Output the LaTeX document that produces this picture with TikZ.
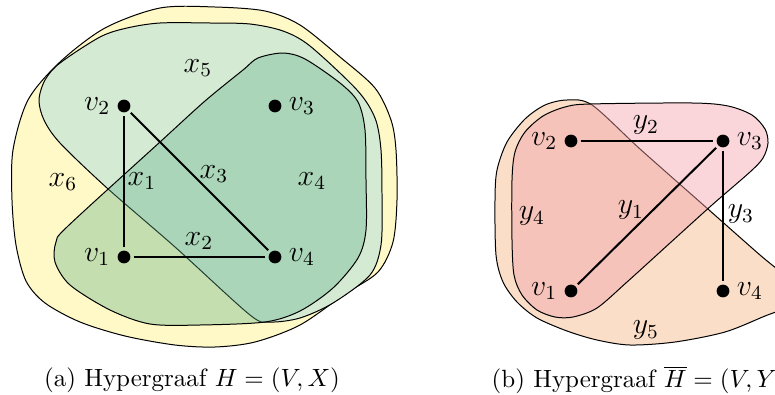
\documentclass[tikz,border=0pt]{standalone}
\usepackage{amsmath}
\usetikzlibrary{positioning}
\definecolor{xsix}{RGB}{255,248,199}
\definecolor{xfive}{RGB}{213,234,211}
\definecolor{xfour}{RGB}{94,178,137}
\definecolor{yfive}{RGB}{250,222,200}
\definecolor{yfour}{RGB}{243,160,169}

\begin{document}
\begin{tikzpicture}[x=0.01408cm, y=-0.01408cm,
  vertex/.style={circle, fill=black, inner sep=0pt, minimum size=1.8mm, outer sep=1.3pt},
  vlabel/.style={inner sep=1.5pt, font=\large},
  elabel/.style={inner sep=0pt, font=\large},
  hedge/.style={draw=black, line width=0.4pt},
  link/.style={thick}]

\useasboundingbox (0,0) rectangle (775,394);
\clip (0,0) rectangle (775,394);

%---------------------------------------
% LEFT PANEL: H = (V,X)
%---------------------------------------

  % ---- x6 ----
  \draw[hedge, fill=xsix] plot[smooth cycle] coordinates {
    (160,8) (215,7) (265,11) (300,25) (340,57) (375,88) (391,120)
    (396,150) (397,200) (393,242) (378,272) (345,294) (300,325)
    (255,342) (215,347) (175,345) (125,336) (80,322) (45,303)
    (26,281) (16,245) (12,200) (13,150) (28,100) (60,62) (105,28)};

  % ---- x5 ----
  \draw[hedge, fill=xfive] plot[smooth cycle] coordinates {
    (160,23) (210,23) (250,24) (283,31) (310,46) (357,90) (375,118)
    (381,150) (382,200) (381,245) (370,275) (333,303) (300,318)
    (270,322) (250,315) (175,247) (107,188) (60,143) (44,120)
    (39,100) (45,80) (60,63) (100,37) (127,28)};

  % ---- x4 ----
  \draw[hedge, fill=xfour, fill opacity=0.36] plot[smooth cycle] coordinates {
    (243,70) (258,58) (283,53) (305,59) (340,83) (358,102) (365,130)
    (366,180) (366,230) (358,258) (333,288) (300,311) (265,322)
    (200,325) (150,324) (110,310) (70,285) (55,262) (56,242)
    (68,226) (160,142) (205,101)};

  % Vertices
  \node[vertex, label={[vlabel]left:$v_1$}]  (lv1) at (124,257) {};
  \node[vertex, label={[vlabel]left:$v_2$}]  (lv2) at (124,106) {};
  \node[vertex, label={[vlabel]right:$v_3$}] (lv3) at (275,106) {};
  \node[vertex, label={[vlabel]right:$v_4$}] (lv4) at (275,257) {};

  % Edges x1, x2, x3
  \draw[link] (lv1) -- (lv2);
  \draw[link] (lv1) -- (lv4);
  \draw[link] (lv2) -- (lv4);

  % Labels
  \node[elabel] (lx1) at (142,181) {$x_1$};
  \node[elabel] (lx2) at (199,241) {$x_2$};
  \node[elabel] (lx3) at (214,174) {$x_3$};
  \node[elabel] (lx4) at (312,181) {$x_4$};
  \node[elabel] (lx5) at (198,68)  {$x_5$};
  \node[elabel] (lx6) at (63,182)  {$x_6$};

  \node (capa) at (192,380) {(a) Hypergraaf $H=(V,X)$};

%---------------------------------------
% RIGHT PANEL: complement of H = (V,Y)
%---------------------------------------

  % ---- y5 ----
  \draw[hedge, fill=yfive] plot[smooth cycle] coordinates {
    (567,100) (592,105) (640,149) (700,202) (760,255) (790,280)
    (798,296) (785,308) (765,316) (725,332) (675,342) (630,345)
    (597,340) (567,331) (537,318) (517,302) (503,282) (496,255)
    (495,200) (497,170) (507,142) (525,119) (545,105)};

  % ---- y4 ----
  \draw[hedge, fill=yfour, fill opacity=0.43] plot[smooth cycle] coordinates {
    (590,104) (692,103) (728,106) (752,115) (765,129) (768,143)
    (763,158) (750,172) (712,205) (670,243) (627,282) (597,308)
    (573,317) (555,317) (537,310) (522,295) (514,275) (512,240)
    (512,180) (515,152) (525,132) (543,116) (565,107)};

  % Vertices
  \node[vertex, label={[vlabel]left:$v_1$}]  (rv1) at (571,291) {};
  \node[vertex, label={[vlabel]left:$v_2$}]  (rv2) at (571,141) {};
  \node[vertex, label={[vlabel]right:$v_3$}] (rv3) at (723,141) {};
  \node[vertex, label={[vlabel]right:$v_4$}] (rv4) at (723,291) {};

  % Edges y1, y2, y3
  \draw[link] (rv1) -- (rv3);
  \draw[link] (rv2) -- (rv3);
  \draw[link] (rv3) -- (rv4);

  % Labels
  \node[elabel] (ry1) at (631,210) {$y_1$};
  \node[elabel] (ry2) at (646,125) {$y_2$};
  \node[elabel] (ry3) at (741,214) {$y_3$};
  \node[elabel] (ry4) at (532,216) {$y_4$};
  \node[elabel] (ry5) at (646,330) {$y_5$};

  \node (capb) at (639,380) {(b) Hypergraaf $\overline{H}=(V,Y)$};

\end{tikzpicture}
\end{document}
